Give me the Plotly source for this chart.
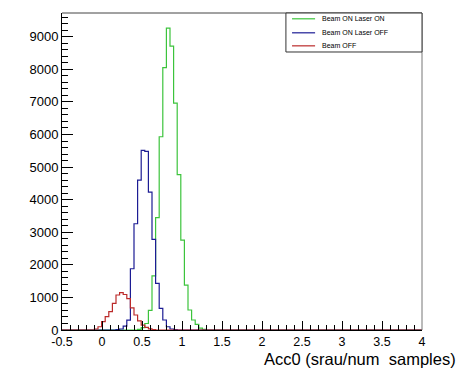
import numpy as np
import plotly.graph_objects as go

# ---- data ----
n_bins = 100
x_low, x_high = -0.5, 4.0

green_first_bin = 21
green_counts = [20, 70, 200, 600, 1660, 3450, 5930, 8050, 9265, 8710, 6960,
                4770, 2760, 1380, 614, 307, 175, 60, 20]

blue_first_bin = 15
blue_counts = [10, 30, 120, 300, 1880, 3260, 4600, 5510, 5480, 4230, 2780,
               1430, 665, 307, 100, 30, 10]

red_first_bin = 9
red_counts = [30, 100, 255, 409, 562, 818, 1074, 1150, 1090, 960, 680, 460,
              280, 150, 80, 35, 10]

series_names = ["Beam ON Laser ON", "Beam ON Laser OFF", "Beam OFF"]
x_tick_vals = [-0.5, 0, 0.5, 1, 1.5, 2, 2.5, 3, 3.5, 4]
x_tick_text = ["-0.5", "0", "0.5", "1", "1.5", "2", "2.5", "3", "3.5", "4"]
y_tick_vals = [0, 1000, 2000, 3000, 4000, 5000, 6000, 7000, 8000, 9000]
y_tick_text = ["0", "1000", "2000", "3000", "4000", "5000", "6000", "7000", "8000", "9000"]
x_title = "Acc0 (srau/num\u00a0 samples)"

# ---- styling ----
colors = ["#3cc43c", "#1c1c94", "#bb2a2a"]
font_family = "Liberation Sans, Arial, Helvetica, sans-serif"

edges = np.linspace(x_low, x_high, n_bins + 1)


def full_hist(first, vals):
    h = np.zeros(n_bins)
    h[first:first + len(vals)] = vals
    return h


hists = [full_hist(green_first_bin, green_counts),
         full_hist(blue_first_bin, blue_counts),
         full_hist(red_first_bin, red_counts)]

ymax = 1.05 * max(h.max() for h in hists)

fig = go.Figure()
for name, h, c in zip(series_names, hists, colors):
    fig.add_trace(go.Scatter(
        x=edges, y=np.append(h, h[-1]), mode="lines", name=name,
        line=dict(color=c, width=1.2, shape="hv"), showlegend=False,
        hoverinfo="skip"))

W, H = 462, 369
ml, mr, mt, mb = 62, 40, 13, 39

fig.update_layout(
    width=W, height=H,
    margin=dict(l=ml, r=mr, t=mt, b=mb, pad=0),
    paper_bgcolor="white", plot_bgcolor="white",
    font=dict(family=font_family, size=13, color="black"),
    xaxis=dict(range=[x_low, x_high], showgrid=False, zeroline=False,
               showline=True, linecolor="black", linewidth=1,
               ticks="inside", ticklen=9, tickwidth=1, tickcolor="black",
               tickvals=x_tick_vals, ticktext=x_tick_text,
               tickfont=dict(size=12.5),
               minor=dict(dtick=0.1, ticks="inside", ticklen=5,
                          tickcolor="black", tickwidth=1, showgrid=False)),
    yaxis=dict(range=[0, ymax], showgrid=False, zeroline=False,
               showline=True, linecolor="black", linewidth=1,
               ticks="inside", ticklen=11, tickwidth=1, tickcolor="black",
               tickvals=y_tick_vals, ticktext=y_tick_text,
               minor=dict(dtick=200, ticks="inside", ticklen=6,
                          tickcolor="black", tickwidth=1, showgrid=False)),
    showlegend=False,
)

# frame: top and right lines
fig.add_shape(type="line", xref="paper", yref="paper", x0=0, x1=1, y0=1, y1=1,
              line=dict(color="#444444", width=1))
fig.add_shape(type="line", xref="paper", yref="paper", x0=1, x1=1, y0=0, y1=1,
              line=dict(color="#777777", width=1))

# legend box (ROOT TLegend style)
fig.add_shape(type="rect", xref="paper", yref="paper", x0=0.622, x1=1.0,
              y0=0.877, y1=1.0, line=dict(color="#333333", width=1),
              fillcolor="white")
legend_rows = [0.9817, 0.9375, 0.8964]
for name, c, yr in zip(series_names, colors, legend_rows):
    fig.add_shape(type="line", xref="paper", yref="paper", x0=0.639, x1=0.703,
                  y0=yr, y1=yr, line=dict(color=c, width=1.2))
    fig.add_annotation(xref="paper", yref="paper", x=0.7167, y=yr, text=name,
                       showarrow=False, xanchor="left", yanchor="middle",
                       font=dict(size=7, family=font_family, color="black"))

# x-axis title, right aligned like ROOT
fig.add_annotation(xref="paper", yref="paper", x=(458 - ml) / (W - ml - mr),
                   y=-(359 - (H - mb)) / (H - mt - mb), text=x_title,
                   showarrow=False, xanchor="right", yanchor="middle",
                   font=dict(size=16.5, family=font_family, color="black"))

fig.write_html("out.html")
